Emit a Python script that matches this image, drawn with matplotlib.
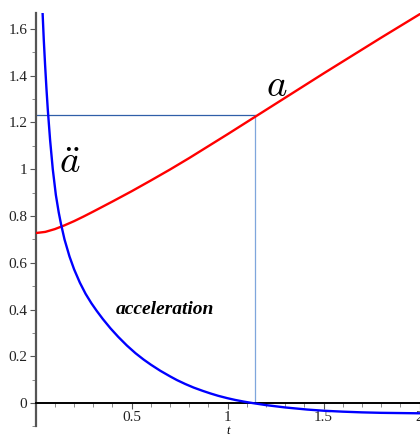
import matplotlib
matplotlib.use('Agg')
import matplotlib.pyplot as plt
from matplotlib.ticker import MultipleLocator, FixedLocator

plt.rcParams['mathtext.fontset'] = 'cm'

# scale factor a(t)
t_a = [0, 0.05, 0.1, 0.15, 0.2, 0.25, 0.3, 0.4, 0.5, 0.6, 0.7, 0.8, 0.9, 1.0,
       1.1, 1.2, 1.3, 1.4, 1.5, 1.6, 1.7, 1.8, 1.9, 2.0]
a_vals = [0.727, 0.732, 0.744, 0.760, 0.778, 0.798, 0.819, 0.862, 0.906, 0.952, 0.999,
          1.048, 1.099, 1.150, 1.202, 1.254, 1.306, 1.358, 1.410, 1.461, 1.512, 1.563,
          1.613, 1.663]

# acceleration
t_acc = [0.034, 0.036, 0.042, 0.049, 0.056, 0.063, 0.075, 0.089, 0.105, 0.12, 0.132,
         0.15, 0.176, 0.2, 0.23, 0.26, 0.29, 0.318, 0.35, 0.39, 0.43, 0.475, 0.52,
         0.562, 0.6, 0.649, 0.7, 0.736, 0.78, 0.823, 0.87, 0.91, 0.95, 0.997, 1.04,
         1.084, 1.128, 1.2, 1.3, 1.415, 1.5, 1.6, 1.7, 1.8, 1.9, 2.0]
acc_vals = [1.70, 1.667, 1.555, 1.445, 1.345, 1.255, 1.125, 1.0, 0.89, 0.815, 0.765,
            0.70, 0.627, 0.572, 0.515, 0.467, 0.427, 0.394, 0.359, 0.319, 0.283, 0.246, 0.213,
            0.186, 0.164, 0.138, 0.114, 0.098, 0.081, 0.066, 0.052, 0.041, 0.031, 0.021, 0.013,
            0.006, 0.0, -0.009, -0.019, -0.028, -0.033, -0.037, -0.040, -0.042, -0.043, -0.044]

t_mark = 1.14
a_mark = 1.23

y_ticks = [0, 0.2, 0.4, 0.6, 0.8, 1, 1.2, 1.4, 1.6]
y_labels = ['0', '0.2', '0.4', '0.6', '0.8', '1', '1.2', '1.4', '1.6']
x_ticks = [0.5, 1, 1.5, 2]
x_labels = ['0.5', '1', '1.5', '2']

fig = plt.figure(figsize=(4.2, 4.38), dpi=100)
ax = fig.add_axes([0.085, 0.0265, 0.915, 0.9447])

ax.plot(t_a, a_vals, color='#ff0000', lw=1.7, zorder=3)
ax.plot(t_acc, acc_vals, color='#0000ff', lw=1.7, zorder=3)
ax.plot([0, t_mark], [a_mark, a_mark], color='#2f5fa8', lw=0.9, zorder=2)
ax.plot([t_mark, t_mark], [0, a_mark], color='#7fa6dc', lw=0.9, zorder=2)

ax.set_xlim(0, 2.002)
ax.set_ylim(-0.1, 1.67)

# maple style axes: x axis through y=0
ax.spines['top'].set_visible(False)
ax.spines['right'].set_visible(False)
ax.spines['bottom'].set_position(('data', 0))
ax.spines['bottom'].set_color('black')
ax.spines['bottom'].set_linewidth(1.4)
ax.spines['left'].set_color('#555555')
ax.spines['left'].set_linewidth(1.6)

ax.yaxis.set_major_locator(FixedLocator(y_ticks))
ax.set_yticklabels(y_labels)
ax.yaxis.set_minor_locator(MultipleLocator(0.1))
ax.xaxis.set_major_locator(FixedLocator(x_ticks))
ax.set_xticklabels(x_labels)
ax.xaxis.set_minor_locator(MultipleLocator(0.1))

for lab in ax.get_xticklabels() + ax.get_yticklabels():
    lab.set_family('Liberation Serif')
    lab.set_fontsize(11)
    lab.set_color('#222222')
ax.tick_params(axis='both', which='major', length=4, width=0.8, color='#555555', pad=2)
ax.tick_params(axis='both', which='minor', length=3, width=0.6, color='#777777')

# axis label "t" sits just under the tick labels
ax.text(0.5, -0.012, 't', transform=ax.transAxes, fontstyle='italic',
        family='Liberation Serif', fontsize=9, ha='center', va='center')

ax.text(0.178, 1.03, r'$\ddot{a}$', fontsize=28, ha='center', va='center')
ax.text(1.255, 1.36, r'$a$', fontsize=28, ha='center', va='center')
ax.text(0.675, 0.398, 'acceleration', fontsize=14, fontweight='bold', fontstyle='italic',
        family='Liberation Serif', ha='center', va='center')

fig.savefig('out.png', dpi=100)
